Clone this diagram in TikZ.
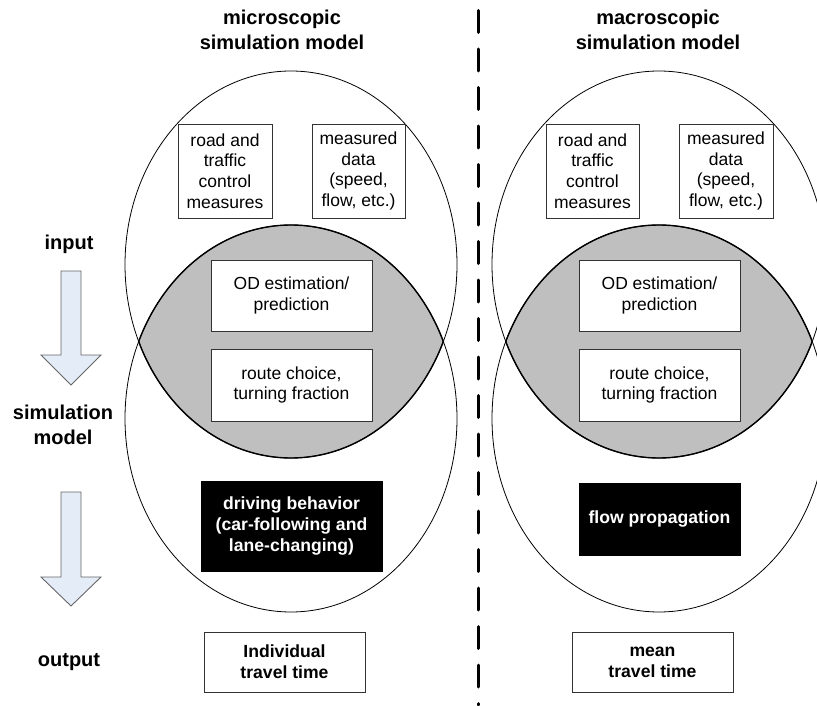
\documentclass[tikz,border=0pt]{standalone}
\usepackage{fontspec}
\setmainfont{Liberation Sans}
\definecolor{arrowfill}{RGB}{228,236,248}
\begin{document}
\begin{tikzpicture}[x=1pt,y=-1pt,
  boxtext/.style={font=\fontsize{17.5}{20.7}\selectfont},
  wbox/.style={draw=black!80, line width=0.9pt, fill=white, inner sep=0pt, align=center, boxtext},
  bbox/.style={draw=black, fill=black, text=white, inner sep=0pt, align=center, font=\fontsize{17.6}{21}\selectfont\bfseries},
  lbl/.style={align=center, font=\fontsize{20}{25}\selectfont\bfseries},
  ell/.style={draw=black, line width=0.8pt},
  lensfill/.style={fill=black!25},
  blockarrow/.style={draw=black!60, fill=arrowfill, line width=0.9pt, line join=miter},
  divider/.style={line width=3pt, line cap=round, dash pattern=on 22pt off 16.5pt}
]
\useasboundingbox (0,0) rectangle (817,706);
\begin{scope}
\clip (0,0) rectangle (817,706);
% lens fills
\begin{scope}
  \clip (291,264.5) ellipse [x radius=166, y radius=193.5];
  \fill[lensfill] (291,418.5) ellipse [x radius=166, y radius=193.5];
\end{scope}
\begin{scope}
  \clip (659,264.5) ellipse [x radius=167, y radius=193.5];
  \fill[lensfill] (659,418.5) ellipse [x radius=167, y radius=193.5];
\end{scope}
% lens boundaries thicker
\begin{scope}
  \clip (291,418.5) ellipse [x radius=166, y radius=193.5];
  \draw[line width=1.4pt] (291,264.5) ellipse [x radius=166, y radius=193.5];
\end{scope}
\begin{scope}
  \clip (291,264.5) ellipse [x radius=166, y radius=193.5];
  \draw[line width=1.4pt] (291,418.5) ellipse [x radius=166, y radius=193.5];
\end{scope}
\begin{scope}
  \clip (659,418.5) ellipse [x radius=167, y radius=193.5];
  \draw[line width=1.4pt] (659,264.5) ellipse [x radius=167, y radius=193.5];
\end{scope}
\begin{scope}
  \clip (659,264.5) ellipse [x radius=167, y radius=193.5];
  \draw[line width=1.4pt] (659,418.5) ellipse [x radius=167, y radius=193.5];
\end{scope}
% ellipses
\draw[ell] (291,264.5) ellipse [x radius=166, y radius=193.5];
\draw[ell] (291,418.5) ellipse [x radius=166, y radius=193.5];
\draw[ell] (659,264.5) ellipse [x radius=167, y radius=193.5];
\draw[ell] (659,418.5) ellipse [x radius=167, y radius=193.5];
\end{scope}

% divider
\coordinate (dtop) at (478,10.5);
\coordinate (dbot) at (478,705);
\draw[divider] (dtop) -- (dbot);

% titles
\node[lbl] (titleL) at (282,29.5) {microscopic\\simulation model};
\node[lbl] (titleR) at (658,29.5) {macroscopic\\simulation model};

% side labels
\node[lbl] (input) at (69,244) {input};
\node[lbl] (simmodel) at (63,424.5) {simulation\\model};
\node[lbl] (output) at (69,662) {output};

% block arrows
\draw[blockarrow] (61,271) -- (81,271) -- (81,355) -- (101,355) -- (71,385) -- (41,355) -- (61,355) -- cycle;
\draw[blockarrow] (61,492) -- (81,492) -- (81,577) -- (101,577) -- (71,606) -- (41,577) -- (61,577) -- cycle;

% left boxes
\node[wbox, minimum width=94, minimum height=94] (roadL) at (225,171) {road and\\traffic\\control\\measures};
\node[wbox, minimum width=93, minimum height=94] (measL) at (358.5,171) {measured\\data\\(speed,\\flow, etc.)};
\node[wbox, minimum width=161, minimum height=71] (odL) at (291.5,295.5) {OD estimation/\\prediction};
\node[wbox, minimum width=161, minimum height=72] (routeL) at (291.5,385) {route choice,\\turning fraction};
\node[bbox, minimum width=181, minimum height=90] (driveL) at (291.5,526) {driving behavior\\(car-following and\\lane-changing)};
\node[wbox, minimum width=161, minimum height=60, font=\fontsize{17.6}{21}\selectfont\bfseries] (indivL) at (284.5,662) {Individual\\travel time};

% right boxes
\node[wbox, minimum width=93, minimum height=94] (roadR) at (592.5,171) {road and\\traffic\\control\\measures};
\node[wbox, minimum width=94, minimum height=94] (measR) at (726,171) {measured\\data\\(speed,\\flow, etc.)};
\node[wbox, minimum width=161, minimum height=71] (odR) at (659.5,295.5) {OD estimation/\\prediction};
\node[wbox, minimum width=161, minimum height=72] (routeR) at (659.5,385) {route choice,\\turning fraction};
\node[bbox, minimum width=161, minimum height=72] (flowR) at (659.5,519) {flow propagation};
\node[wbox, minimum width=161, minimum height=60, font=\fontsize{17.6}{21}\selectfont\bfseries] (meanR) at (652.5,662) {mean\\travel time};
\end{tikzpicture}
\end{document}
